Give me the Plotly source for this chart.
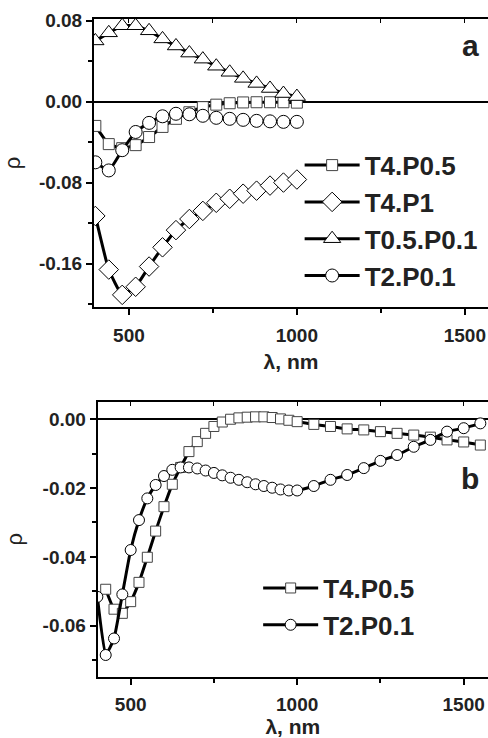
import plotly.graph_objects as go

# panel a: 400..1000 nm, 40 nm step
wl_a = [400, 440, 480, 520, 560, 600, 640, 680, 720, 760, 800, 840, 880, 920, 960, 1000]
a_t4p05 = [-0.024, -0.042, -0.046, -0.043, -0.035, -0.025, -0.017, -0.0105, -0.0055, -0.003,
           -0.0016, -0.0008, -0.0006, -0.0006, -0.0006, -0.001]
a_t4p1 = [-0.113, -0.166, -0.191, -0.183, -0.163, -0.144, -0.127, -0.116, -0.108, -0.100,
          -0.096, -0.091, -0.088, -0.083, -0.080, -0.077]
a_t05p01 = [0.060, 0.068, 0.075, 0.075, 0.070, 0.062, 0.055, 0.048, 0.042, 0.035,
            0.029, 0.023, 0.018, 0.013, 0.008, 0.005]
a_t2p01 = [-0.060, -0.068, -0.048, -0.030, -0.021, -0.0145, -0.012, -0.0125, -0.014, -0.016,
           -0.017, -0.018, -0.019, -0.0195, -0.020, -0.020]

# panel b
wl_b_sq = [425, 450, 475, 500, 525, 550, 575, 600, 625, 650, 675, 700, 725, 750, 775, 800,
           825, 850, 875, 900, 925, 950, 975, 1000, 1050, 1100, 1150, 1200, 1250, 1300,
           1350, 1400, 1450, 1500, 1550]
b_t4p05 = [-0.0494, -0.0552, -0.0564, -0.053, -0.0474, -0.0401, -0.0325, -0.0254, -0.0189,
           -0.014, -0.0094, -0.0065, -0.0041, -0.0021, -0.0008, 0.0, 0.0004, 0.0006, 0.0007,
           0.0007, 0.0005, 0.0001, -0.0003, -0.0007, -0.0015, -0.0021, -0.0028, -0.0031,
           -0.0036, -0.0041, -0.0046, -0.0052, -0.006, -0.0066, -0.0075]
wl_b_ci = [400, 425, 450, 475, 500, 525, 550, 575, 600, 625, 650, 675, 700, 725, 750, 775,
           800, 825, 850, 875, 900, 925, 950, 975, 1000, 1050, 1100, 1150, 1200, 1250, 1300,
           1350, 1400, 1450, 1500, 1550]
b_t2p01 = [-0.0516, -0.0685, -0.0637, -0.0509, -0.038, -0.0293, -0.023, -0.0191, -0.0165,
           -0.0147, -0.014, -0.014, -0.0143, -0.0149, -0.0156, -0.0163, -0.017, -0.0176,
           -0.0183, -0.0189, -0.0194, -0.0199, -0.0204, -0.0207, -0.0207, -0.0194, -0.0176,
           -0.0162, -0.0142, -0.0121, -0.0104, -0.008, -0.006, -0.0036, -0.0026, -0.0012]

x_ticks = [500, 1000, 1500]
x_minor = [750, 1250]
ya_ticks = [0.08, 0.0, -0.08, -0.16]
ya_text = ["0.08", "0.00", "-0.08", "-0.16"]
ya_minor = [0.04, -0.04, -0.12, -0.2]
yb_ticks = [0.0, -0.02, -0.04, -0.06]
yb_text = ["0.00", "-0.02", "-0.04", "-0.06"]
yb_minor = [-0.01, -0.03, -0.05, -0.07]

FONT = "Liberation Sans"


def serie(x, y, name, symbol, size, xa, ya, legend, mcolor="black"):
    return go.Scatter(
        x=x, y=y, name=name, mode="lines+markers",
        xaxis=xa, yaxis=ya, legend=legend,
        line=dict(color="black", width=3, shape="spline", smoothing=0.4),
        marker=dict(symbol=symbol, size=size, color="white",
                    line=dict(color=mcolor, width=1)),
    )


fig = go.Figure()
fig.add_trace(serie(wl_a, a_t4p05, "T4.P0.5", "square", 11, "x", "y", "legend", "#444"))
fig.add_trace(serie(wl_a, a_t4p1, "T4.P1", "diamond", 15, "x", "y", "legend"))
fig.add_trace(serie(wl_a, a_t05p01, "T0.5.P0.1", "triangle-up", 15, "x", "y", "legend"))
fig.add_trace(serie(wl_a, a_t2p01, "T2.P0.1", "circle", 13, "x", "y", "legend"))
fig.add_trace(serie(wl_b_sq, b_t4p05, "T4.P0.5", "square", 10, "x2", "y2", "legend2", "#444"))
fig.add_trace(serie(wl_b_ci, b_t2p01, "T2.P0.1", "circle", 11, "x2", "y2", "legend2"))
# empty traces so the top (mirror) axes get drawn
fig.add_trace(go.Scatter(x=[], y=[], xaxis="x3", yaxis="y", showlegend=False))
fig.add_trace(go.Scatter(x=[], y=[], xaxis="x4", yaxis="y2", showlegend=False))

tickfont = dict(family=FONT, size=19, color="#222", weight="bold")
titlefont = dict(family=FONT, size=21, color="#222", weight="bold")


def xax(domain, rng, anchor, standoff):
    return dict(domain=domain, range=rng, anchor=anchor, showgrid=False, zeroline=False,
                automargin=False,
                showline=True, linecolor="black", linewidth=2,
                tickvals=x_ticks, ticks="outside", ticklen=6, tickwidth=1.5,
                tickcolor="black", tickfont=tickfont, ticklabelstandoff=4,
                minor=dict(tickvals=x_minor, ticks="outside", ticklen=4, tickcolor="black"),
                title=dict(text="λ, nm", font=titlefont, standoff=standoff))


def yax(domain, rng, anchor, tv, tt, mv):
    return dict(domain=domain, range=rng, anchor=anchor, showgrid=False,
                automargin=False,
                zeroline=True, zerolinecolor="black", zerolinewidth=1.5,
                showline=True, linecolor="black", linewidth=2,
                tickvals=tv, ticktext=tt, ticks="outside", ticklen=6, tickwidth=1.5,
                tickcolor="black", tickfont=tickfont,
                minor=dict(tickvals=mv, ticks="outside", ticklen=4, tickcolor="black"),
                title=dict(text="ρ", font=dict(family=FONT, size=22, color="#222"), standoff=14))


def topax(over, domain, rng, anchor):
    return dict(overlaying=over, side="top", domain=domain, range=rng, anchor=anchor,
                automargin=False,
                showgrid=False, zeroline=False, showline=True, linecolor="black",
                linewidth=2, tickvals=x_ticks + x_minor, ticks="inside", ticklen=4,
                tickcolor="black", showticklabels=False)


dom_a_x = [94 / 488, 1]
dom_b_x = [97.7 / 488, 1]
dom_a_y = [0.584, 0.9743]
dom_b_y = [0.0831, 0.4557]
rng_a_x = [396, 1569]
rng_b_x = [401, 1573]

legfont = dict(family=FONT, size=26, color="#222", weight="bold")
labfont = dict(family=FONT, size=30, color="#222", weight="bold")

fig.update_layout(
    template="none",
    width=488, height=738,
    margin=dict(l=0, r=0, t=0, b=0, pad=0),
    paper_bgcolor="white", plot_bgcolor="white",
    xaxis=xax(dom_a_x, rng_a_x, "y", 9),
    yaxis=yax(dom_a_y, [-0.203, 0.0817], "x", ya_ticks, ya_text, ya_minor),
    xaxis2=xax(dom_b_x, rng_b_x, "y2", 0),
    yaxis2=yax(dom_b_y, [-0.0748, 0.0051], "x2", yb_ticks, yb_text, yb_minor),
    xaxis3=topax("x", dom_a_x, rng_a_x, "y"),
    xaxis4=topax("x2", dom_b_x, rng_b_x, "y2"),
    legend=dict(x=0.614, y=0.808, xanchor="left", yanchor="top", bgcolor="rgba(0,0,0,0)",
                font=legfont, itemwidth=55, tracegroupgap=0),
    legend2=dict(x=0.529, y=0.235, xanchor="left", yanchor="top", bgcolor="rgba(0,0,0,0)",
                 font=legfont, itemwidth=55, tracegroupgap=0),
    annotations=[
        dict(text="a", x=0.964, y=0.939, xref="paper", yref="paper", showarrow=False,
             xanchor="center", yanchor="middle", font=labfont),
        dict(text="b", x=0.964, y=0.352, xref="paper", yref="paper", showarrow=False,
             xanchor="center", yanchor="middle", font=labfont),
    ],
)

fig.write_html("out.html", config={"displayModeBar": False},
               post_script="document.body.style.margin='0';")
